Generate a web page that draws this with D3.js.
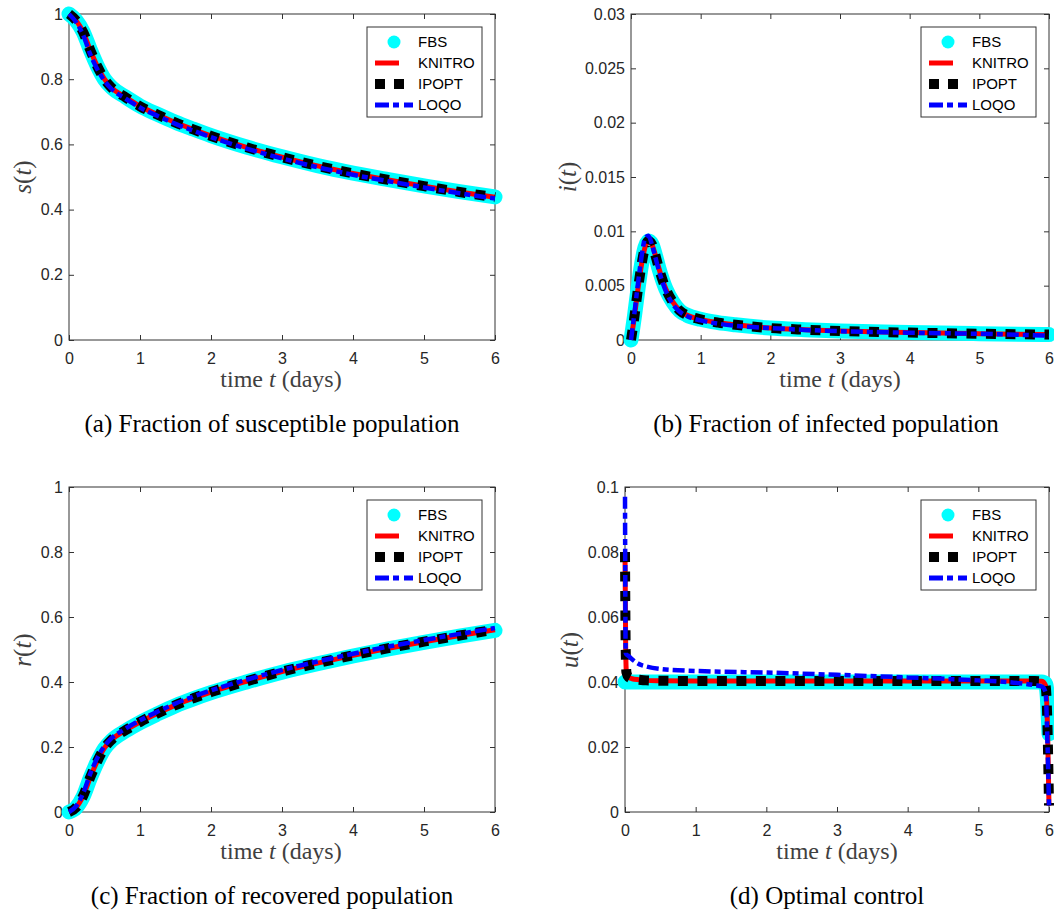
<!DOCTYPE html>
<html>
<head>
<meta charset="utf-8">
<script src="https://cdn.jsdelivr.net/npm/d3@7"></script>
<style>
  body { margin: 0; background: #fff; }
  .tick text { font-family: "Liberation Sans", Arial, sans-serif; font-size: 16px; fill: #262626; }
  .tick line { stroke: #333; }
</style>
</head>
<body>
<svg id="fig" width="1054" height="913"></svg>
<script>
// legend / series names
var seriesNames = ["FBS", "KNITRO", "IPOPT", "LOQO"];

// (a) susceptible
var tS = [0, 0.1, 0.2, 0.3, 0.4, 0.5, 0.6, 0.8, 1, 1.25, 1.5, 1.75, 2, 2.5, 3, 3.5, 4, 4.5, 5, 5.5, 6];
var sFBS    = [1, 0.98, 0.945, 0.89, 0.84, 0.80, 0.775, 0.745, 0.718, 0.692, 0.668, 0.647, 0.627, 0.592, 0.562, 0.535, 0.512, 0.492, 0.473, 0.455, 0.439];
var sKNITRO = [1, 0.98, 0.944, 0.889, 0.839, 0.80, 0.774, 0.744, 0.717, 0.691, 0.667, 0.646, 0.626, 0.591, 0.561, 0.534, 0.511, 0.491, 0.472, 0.454, 0.438];
var sIPOPT  = [1, 0.98, 0.944, 0.889, 0.839, 0.80, 0.774, 0.744, 0.717, 0.691, 0.667, 0.646, 0.626, 0.591, 0.561, 0.534, 0.511, 0.491, 0.472, 0.454, 0.438];
var sLOQO   = [1, 0.975, 0.935, 0.876, 0.83, 0.795, 0.77, 0.74, 0.713, 0.687, 0.663, 0.642, 0.622, 0.587, 0.557, 0.53, 0.507, 0.487, 0.468, 0.45, 0.434];

// (b) infected
var tI = [0, 0.05, 0.1, 0.15, 0.2, 0.25, 0.3, 0.35, 0.4, 0.5, 0.6, 0.7, 0.8, 1, 1.25, 1.5, 2, 2.5, 3, 4, 5, 6];
var iFBS    = [0, 0.0022, 0.0047, 0.0069, 0.0085, 0.0091, 0.0088, 0.0078, 0.0066, 0.0047, 0.0035, 0.0027, 0.0023, 0.0019, 0.0016, 0.0014, 0.0011, 0.00095, 0.00083, 0.00068, 0.00058, 0.0005];
var iKNITRO = [0, 0.0022, 0.0047, 0.0069, 0.0085, 0.0091, 0.0088, 0.0078, 0.0066, 0.0047, 0.0035, 0.0027, 0.0023, 0.0019, 0.0016, 0.0014, 0.0011, 0.00095, 0.00083, 0.00068, 0.00058, 0.0005];
var iIPOPT  = [0, 0.0022, 0.0047, 0.0069, 0.0085, 0.0091, 0.0088, 0.0078, 0.0066, 0.0047, 0.0035, 0.0027, 0.0023, 0.0019, 0.0016, 0.0014, 0.0011, 0.00095, 0.00083, 0.00068, 0.00058, 0.0005];
var iLOQO   = [0, 0.0025, 0.0052, 0.0076, 0.0093, 0.0096, 0.0088, 0.0076, 0.0064, 0.0045, 0.0033, 0.0026, 0.0022, 0.0018, 0.0015, 0.0013, 0.0011, 0.00093, 0.00081, 0.00067, 0.00057, 0.0004];

// (c) recovered
var tR = [0, 0.1, 0.2, 0.3, 0.4, 0.5, 0.6, 0.8, 1, 1.25, 1.5, 1.75, 2, 2.5, 3, 3.5, 4, 4.5, 5, 5.5, 6];
var rFBS    = [0, 0.013, 0.048, 0.105, 0.155, 0.195, 0.22, 0.25, 0.275, 0.302, 0.327, 0.348, 0.367, 0.4, 0.43, 0.456, 0.48, 0.502, 0.522, 0.541, 0.559];
var rKNITRO = [0, 0.014, 0.05, 0.107, 0.157, 0.197, 0.222, 0.252, 0.277, 0.304, 0.329, 0.35, 0.369, 0.402, 0.432, 0.458, 0.482, 0.504, 0.524, 0.543, 0.561];
var rIPOPT  = [0, 0.014, 0.05, 0.107, 0.157, 0.197, 0.222, 0.252, 0.277, 0.304, 0.329, 0.35, 0.369, 0.402, 0.432, 0.458, 0.482, 0.504, 0.524, 0.543, 0.561];
var rLOQO   = [0, 0.018, 0.058, 0.118, 0.167, 0.203, 0.227, 0.257, 0.282, 0.309, 0.334, 0.355, 0.374, 0.407, 0.437, 0.463, 0.487, 0.509, 0.529, 0.548, 0.566];

// (d) control
var tU = [0, 0.01, 0.02, 0.05, 0.1, 0.2, 0.3, 0.5, 1, 2, 3, 4, 5, 5.5, 5.8, 5.9, 5.95, 5.98, 6];
var uFBS    = [0.04, 0.04, 0.04, 0.04, 0.04, 0.04, 0.04, 0.04, 0.04, 0.04, 0.04, 0.04, 0.04, 0.04, 0.04, 0.04, 0.0395, 0.034, 0.024];
var uKNITRO = [0.08, 0.05, 0.043, 0.0415, 0.041, 0.0407, 0.0405, 0.0404, 0.0403, 0.0403, 0.0403, 0.0403, 0.0403, 0.0403, 0.0403, 0.0402, 0.039, 0.025, 0.002];
var uIPOPT  = [0.08, 0.05, 0.043, 0.0415, 0.041, 0.0407, 0.0405, 0.0404, 0.0403, 0.0403, 0.0403, 0.0403, 0.0403, 0.0403, 0.0403, 0.0402, 0.039, 0.025, 0.002];
var uLOQO   = [0.097, 0.049, 0.0485, 0.048, 0.047, 0.0455, 0.0448, 0.044, 0.0434, 0.0429, 0.0422, 0.0414, 0.0405, 0.0398, 0.039, 0.0386, 0.037, 0.02, 0.002];

// ticks
var xTicks = [0, 1, 2, 3, 4, 5, 6];
var xTickLabels = ["0", "1", "2", "3", "4", "5", "6"];
var yTicksUnit = [0, 0.2, 0.4, 0.6, 0.8, 1];
var yLabelsUnit = ["0", "0.2", "0.4", "0.6", "0.8", "1"];
var yTicksI = [0, 0.005, 0.01, 0.015, 0.02, 0.025, 0.03];
var yLabelsI = ["0", "0.005", "0.01", "0.015", "0.02", "0.025", "0.03"];
var yTicksU = [0, 0.02, 0.04, 0.06, 0.08, 0.1];
var yLabelsU = ["0", "0.02", "0.04", "0.06", "0.08", "0.1"];

var captions = ["(a) Fraction of susceptible population", "(b) Fraction of infected population",
                "(c) Fraction of recovered population", "(d) Optimal control"];
var yNames = ["s", "i", "r", "u"];

var panels = [
  { box: [69, 495, 14, 340], t: tS, ys: [sFBS, sKNITRO, sIPOPT, sLOQO], yMax: 1, yt: yTicksUnit, yl: yLabelsUnit,
    yLab: [22, 177], xLab: 281, cap: [272, 432] },
  { box: [631, 1049, 14, 340], t: tI, ys: [iFBS, iKNITRO, iIPOPT, iLOQO], yMax: 0.03, yt: yTicksI, yl: yLabelsI,
    yLab: [567, 177], xLab: 840, cap: [826, 432] },
  { box: [69, 495, 487, 812], t: tR, ys: [rFBS, rKNITRO, rIPOPT, rLOQO], yMax: 1, yt: yTicksUnit, yl: yLabelsUnit,
    yLab: [22, 650], xLab: 281, cap: [272, 904] },
  { box: [625, 1049, 487, 812], t: tU, ys: [uFBS, uKNITRO, uIPOPT, uLOQO], yMax: 0.1, yt: yTicksU, yl: yLabelsU,
    yLab: [569, 650], xLab: 837, cap: [827, 904] }
];

// line styles per series
var styles = [
  { stroke: "#00ffff", width: 15, dash: null, cap: "round" },
  { stroke: "#ff0000", width: 5, dash: null, cap: "butt" },
  { stroke: "#000000", width: 10, dash: "10,9.5", cap: "butt" },
  { stroke: "#0000ff", width: 4.5, dash: "12,4,6,4", cap: "butt" }
];

var svg = d3.select("#fig");
svg.append("rect").attr("width", 1054).attr("height", 913).attr("fill", "#fff");

panels.forEach(function(p, k) {
  var L = p.box[0], R = p.box[1], T = p.box[2], B = p.box[3];
  var x = d3.scaleLinear().domain([0, 6]).range([L, R]);
  var y = d3.scaleLinear().domain([0, p.yMax]).range([B, T]);
  var g = svg.append("g");

  // axes with inward ticks on all sides
  g.append("g").attr("transform", "translate(0," + B + ")")
    .call(d3.axisBottom(x).tickValues(xTicks).tickFormat(function(d, i) { return xTickLabels[i]; })
      .tickSizeInner(-5).tickSizeOuter(0).tickPadding(13));
  g.append("g").attr("transform", "translate(0," + T + ")")
    .call(d3.axisTop(x).tickValues(xTicks).tickFormat("").tickSizeInner(-5).tickSizeOuter(0));
  g.append("g").attr("transform", "translate(" + L + ",0)")
    .call(d3.axisLeft(y).tickValues(p.yt).tickFormat(function(d, i) { return p.yl[i]; })
      .tickSizeInner(-5).tickSizeOuter(0).tickPadding(6));
  g.append("g").attr("transform", "translate(" + R + ",0)")
    .call(d3.axisRight(y).tickValues(p.yt).tickFormat("").tickSizeInner(-5).tickSizeOuter(0));
  g.selectAll(".domain").remove();
  g.append("rect").attr("x", L).attr("y", T).attr("width", R - L).attr("height", B - T)
    .attr("fill", "none").attr("stroke", "#333").attr("stroke-width", 1);

  // curves
  var line = d3.line()
    .x(function(d) { return x(d[0]); })
    .y(function(d) { return y(d[1]); })
    .curve(d3.curveMonotoneX);
  p.ys.forEach(function(vals, j) {
    var st = styles[j];
    g.append("path")
      .attr("d", line(p.t.map(function(t, n) { return [t, vals[n]]; })))
      .attr("fill", "none")
      .attr("stroke", st.stroke)
      .attr("stroke-width", st.width)
      .attr("stroke-linecap", st.cap)
      .attr("stroke-linejoin", "round")
      .attr("stroke-dasharray", st.dash);
  });

  // legend
  var lx = R - 128, ly = T + 13;
  var lg = g.append("g").attr("transform", "translate(" + lx + "," + ly + ")");
  lg.append("rect").attr("width", 115).attr("height", 90).attr("fill", "#fff")
    .attr("stroke", "#333").attr("stroke-width", 1);
  seriesNames.forEach(function(name, j) {
    var cy = 15 + j * 21;
    var st = styles[j];
    if (j === 0) {
      lg.append("circle").attr("cx", 27).attr("cy", cy).attr("r", 6.5).attr("fill", st.stroke);
    } else {
      var len = j === 1 ? 24 : (j === 2 ? 29 : 38);
      lg.append("line").attr("x1", 8).attr("x2", 8 + len).attr("y1", cy).attr("y2", cy)
        .attr("stroke", st.stroke).attr("stroke-width", j === 2 ? 10 : 5)
        .attr("stroke-dasharray", j === 2 ? "10,9" : (j === 3 ? "14,4,6,5" : null));
    }
    lg.append("text").attr("x", 51).attr("y", cy).attr("dy", "0.36em")
      .attr("font-family", "Liberation Sans, Arial, sans-serif").attr("font-size", 15)
      .attr("fill", "#000").text(name);
  });

  // axis labels
  var xl = g.append("text").attr("x", p.xLab).attr("y", B + 47).attr("text-anchor", "middle")
    .attr("font-family", "Liberation Serif, Times New Roman, serif").attr("font-size", 24).attr("fill", "#404040");
  xl.append("tspan").text("time ");
  xl.append("tspan").attr("font-style", "italic").text("t");
  xl.append("tspan").text(" (days)");

  var yl = g.append("text").attr("transform", "translate(" + p.yLab[0] + "," + p.yLab[1] + ") rotate(-90)")
    .attr("text-anchor", "middle").attr("dy", "0.35em")
    .attr("font-family", "Liberation Serif, Times New Roman, serif").attr("font-size", 25).attr("fill", "#404040");
  yl.append("tspan").attr("font-style", "italic").text(yNames[k]);
  yl.append("tspan").text("(");
  yl.append("tspan").attr("font-style", "italic").text("t");
  yl.append("tspan").text(")");

  // caption
  svg.append("text").attr("x", p.cap[0]).attr("y", p.cap[1]).attr("text-anchor", "middle")
    .attr("font-family", "Liberation Serif, Times New Roman, serif").attr("font-size", 25)
    .attr("fill", "#000").text(captions[k]);
});
</script>
</body>
</html>
